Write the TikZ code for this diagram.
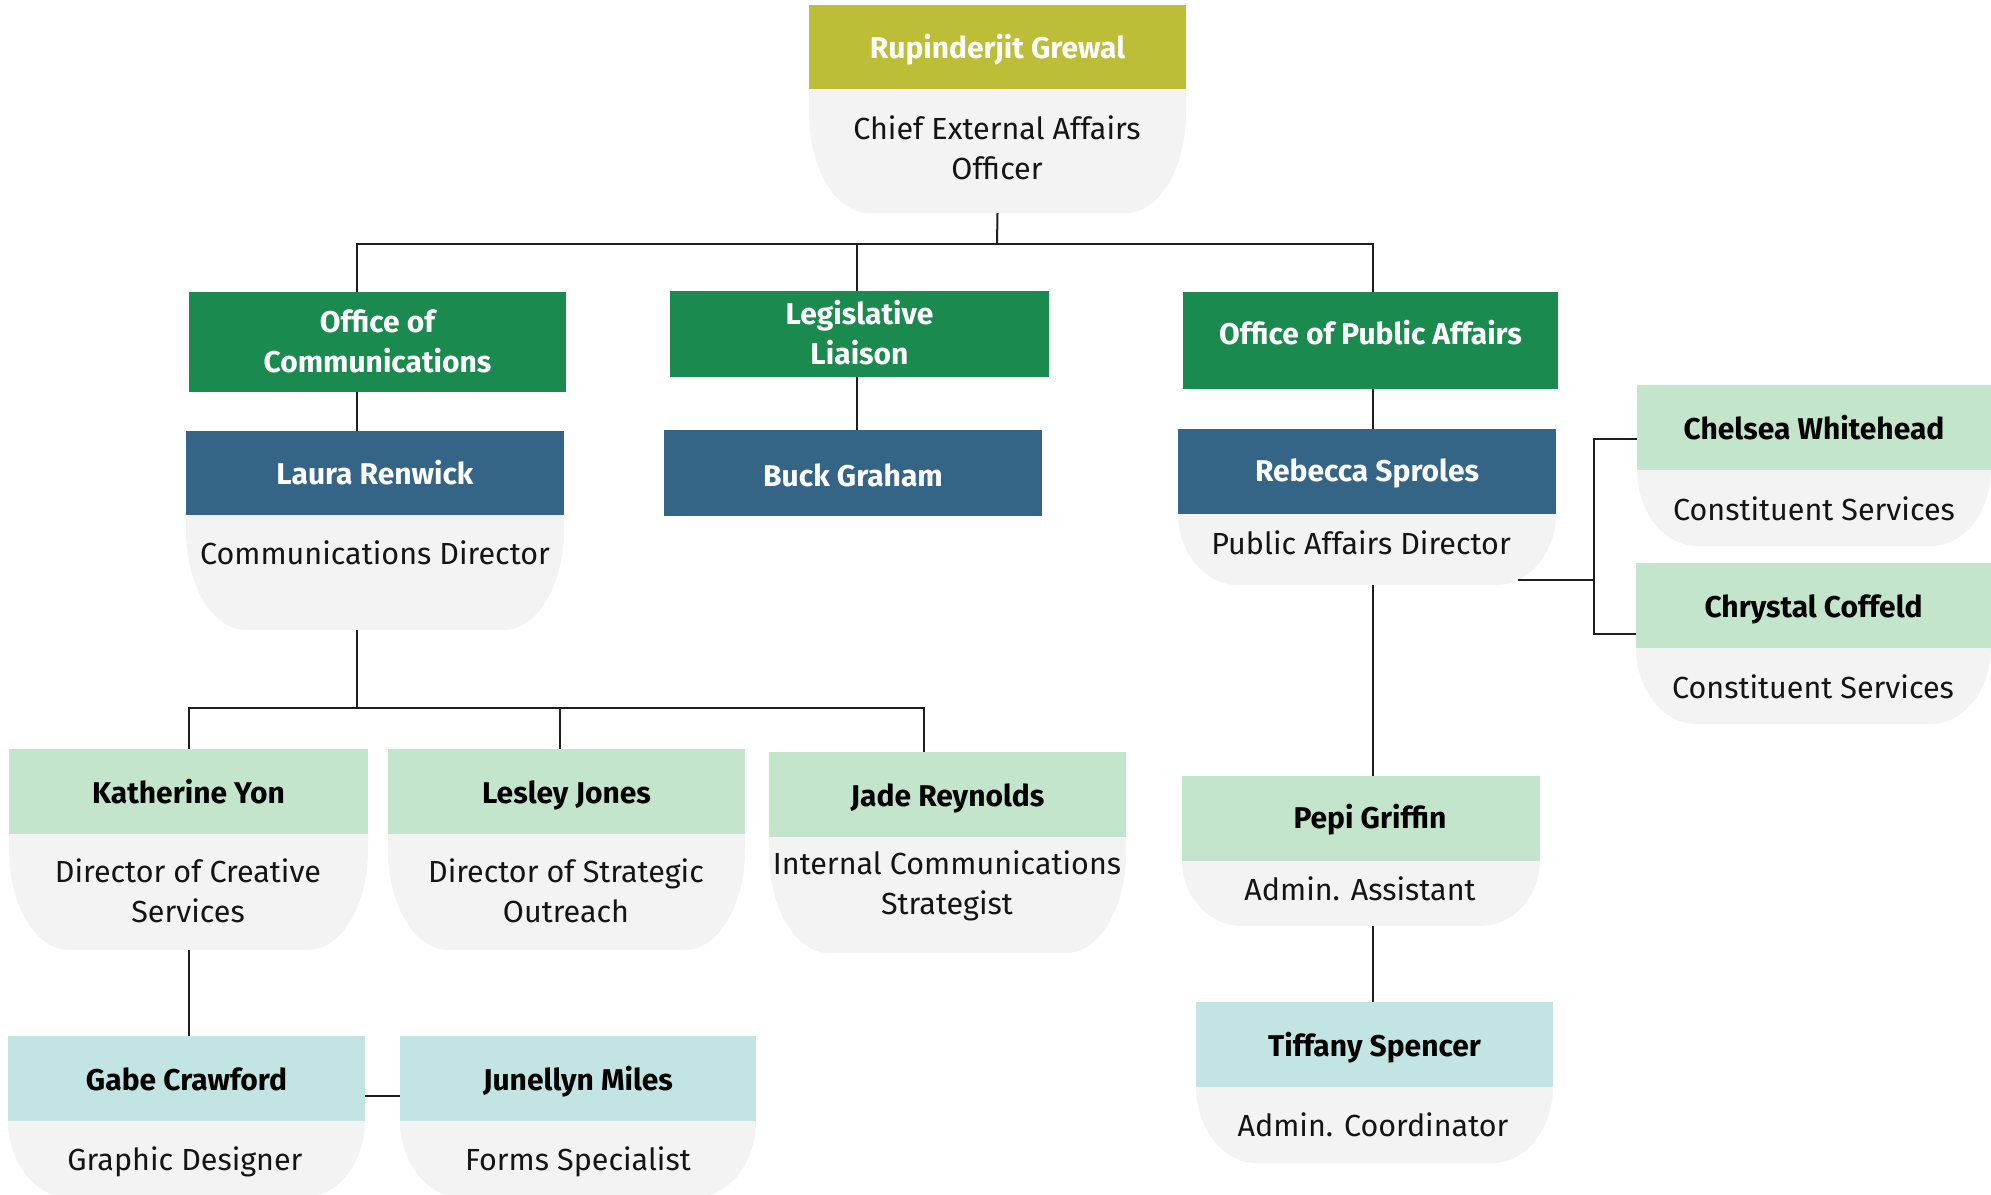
\documentclass[tikz,border=0pt]{standalone}
\usepackage{fontspec}
\setmainfont{Fira Sans}
\definecolor{olive}{RGB}{187,190,54}
\definecolor{dgreen}{RGB}{26,138,78}
\definecolor{dblue}{RGB}{53,101,134}
\definecolor{lgreen}{RGB}{195,229,203}
\definecolor{lteal}{RGB}{194,228,226}
\definecolor{lgray}{RGB}{244,243,244}
\definecolor{linec}{RGB}{30,30,30}
\tikzset{
  headbox/.style={rectangle, inner sep=0pt, align=center, font=\bfseries\fontsize{30}{40}\selectfont},
  darkhead/.style={headbox, text=white},
  lighthead/.style={headbox, text=black},
  bodytxt/.style={inner sep=0pt, align=center, text=black!92, font=\fontsize{30.5}{40}\selectfont},
  oneline/.style={text height=23pt, text depth=0pt},
  conn/.style={draw=linec, line width=2pt},
}
\newcommand\orghead[6]{%
  \node[#6, minimum width=#4pt-#2pt, minimum height=#5pt-#3pt] (#1) at ({(#2+#4)/2},{(#3+#5)/2}) {};}
\newcommand\orgbody[5]{%
  \pgfmathsetmacro\ry{min(#4-#2,100)}%
  \pgfmathsetmacro\ya{#4-\ry}%
  \pgfmathsetmacro\yc{#4-\ry+0.5523*\ry}%
  \fill[lgray] (#1,#2) -- (#3,#2) -- (#3,\ya) .. controls (#3,\yc) and ({#3-60+0.5523*60},#4) .. ({#3-60},#4)
     -- ({#1+60},#4) .. controls ({#1+60-0.5523*60},#4) and (#1,\yc) .. (#1,\ya) -- cycle;
  \coordinate (#5) at ({(#1+#3)/2},#4);}
\begin{document}
\begin{tikzpicture}[x=1pt,y=-1pt]
\useasboundingbox (0,0) rectangle (1991,1194);
\clip (0,0) rectangle (1991,1194);
\fill[white] (0,0) rectangle (1991,1194);
% gray bodies
\orgbody{809}{88}{1186}{213}{chief-b}
\orgbody{186}{514}{564}{630}{laura-b}
\orgbody{1178}{513}{1556}{585}{rebecca-b}
\orgbody{1637}{469}{1991}{546}{chelsea-b}
\orgbody{1636}{647}{1991}{724}{chrystal-b}
\orgbody{9}{833}{368}{950}{kath-b}
\orgbody{388}{833}{745}{950}{lesley-b}
\orgbody{769}{836}{1126}{953}{jade-b}
\orgbody{1182}{860}{1540}{926}{pepi-b}
\orgbody{1196}{1086}{1553}{1163}{tiffany-b}
\orgbody{8}{1120}{365}{1197}{gabe-b}
\orgbody{400}{1120}{756}{1197}{junellyn-b}
% headers
\orghead{chief}{809}{5}{1186}{89}{darkhead, fill=olive}
\orghead{comm}{189}{292}{566}{392}{darkhead, fill=dgreen}
\orghead{legis}{670}{291}{1049}{377}{darkhead, fill=dgreen}
\orghead{pub}{1183}{292}{1558}{389}{darkhead, fill=dgreen}
\orghead{laura}{186}{431}{564}{515}{darkhead, fill=dblue}
\orghead{buck}{664}{430}{1042}{516}{darkhead, fill=dblue}
\orghead{rebecca}{1178}{429}{1556}{514}{darkhead, fill=dblue}
\orghead{chelsea}{1637}{385}{1991}{470}{lighthead, fill=lgreen}
\orghead{chrystal}{1636}{563}{1991}{648}{lighthead, fill=lgreen}
\orghead{kath}{9}{749}{368}{834}{lighthead, fill=lgreen}
\orghead{lesley}{388}{749}{745}{834}{lighthead, fill=lgreen}
\orghead{jade}{769}{752}{1126}{837}{lighthead, fill=lgreen}
\orghead{pepi}{1182}{776}{1540}{861}{lighthead, fill=lgreen}
\orghead{tiffany}{1196}{1002}{1553}{1087}{lighthead, fill=lteal}
\orghead{gabe}{8}{1036}{365}{1121}{lighthead, fill=lteal}
\orghead{junellyn}{400}{1036}{756}{1121}{lighthead, fill=lteal}
% header texts
\node[darkhead, oneline] (chief-n) at (chief) {Rupinderjit Grewal};
\node[darkhead] (comm-n) at ([yshift=1pt]comm.center) {Office of\\Communications};
\node[darkhead] (legis-n) at ([yshift=1pt]legis.center) {Legislative\\Liaison};
\node[darkhead, oneline] (pub-n) at ([yshift=8pt]pub.center) {Office of Public Affairs};
\node[darkhead, oneline] (laura-n) at (laura) {Laura Renwick};
\node[darkhead, oneline] (buck-n) at ([yshift=-2pt]buck.center) {Buck Graham};
\node[darkhead, oneline] (rebecca-n) at ([yshift=2pt]rebecca.center) {Rebecca Sproles};
\node[lighthead, oneline] (chelsea-n) at (chelsea) {Chelsea Whitehead};
\node[lighthead, oneline] (chrystal-n) at (chrystal) {Chrystal Coffeld};
\node[lighthead, oneline] (kath-n) at (kath) {Katherine Yon};
\node[lighthead, oneline] (lesley-n) at (lesley) {Lesley Jones};
\node[lighthead, oneline] (jade-n) at (jade) {Jade Reynolds};
\node[lighthead, oneline] (pepi-n) at ([xshift=9pt,yshift=2pt]pepi.center) {Pepi Griffin};
\node[lighthead, oneline] (tiffany-n) at (tiffany) {Tiffany Spencer};
\node[lighthead, oneline] (gabe-n) at (gabe) {Gabe Crawford};
\node[lighthead, oneline] (junellyn-n) at (junellyn) {Junellyn Miles};
% body texts
\node[bodytxt] (chief-t) at (997,148) {Chief External Affairs\\Officer};
\node[bodytxt, oneline] (laura-t) at (375,553) {Communications Director};
\node[bodytxt, oneline] (rebecca-t) at (1361,543) {Public Affairs Director};
\node[bodytxt, oneline] (chelsea-t) at (1814,509) {Constituent Services};
\node[bodytxt, oneline] (chrystal-t) at (1813,687) {Constituent Services};
\node[bodytxt] (kath-t) at (188,891) {Director of Creative\\Services};
\node[bodytxt] (lesley-t) at (566,891) {Director of Strategic\\Outreach};
\node[bodytxt] (jade-t) at (947,886) {Internal Communications\\Strategist};
\node[bodytxt, oneline] (pepi-t) at (1360,889) {Admin. Assistant};
\node[bodytxt, oneline] (tiffany-t) at (1373,1125) {Admin. Coordinator};
\node[bodytxt, oneline] (gabe-t) at (185,1159) {Graphic Designer};
\node[bodytxt, oneline] (junellyn-t) at (578,1159) {Forms Specialist};
% column and bus coordinates
\coordinate (xA) at (357,0);
\coordinate (xL) at (857,0);
\coordinate (xP) at (1373,0);
\coordinate (xK) at (189,0);
\coordinate (xS) at (560,0);
\coordinate (xJ) at (924,0);
\coordinate (xC) at (997,0);
\coordinate (xB) at (1594,0);
\coordinate (busTop) at (0,244);
\coordinate (busMid) at (0,708);
\coordinate (rebR) at (1518,580);
% connectors
\draw[conn] (chief-b) -- (xC |- busTop);
\draw[conn] (xA |- comm.north) -- (xA |- busTop) -- (xP |- busTop) -- (xP |- pub.north);
\draw[conn] (xL |- busTop) -- (xL |- legis.north);
\draw[conn] (xA |- comm.south) -- (xA |- laura.north);
\draw[conn] (xL |- legis.south) -- (xL |- buck.north);
\draw[conn] (xP |- pub.south) -- (xP |- rebecca.north);
\draw[conn] (xA |- laura-b) -- (xA |- busMid);
\draw[conn] (xK |- kath.north) -- (xK |- busMid) -- (xJ |- busMid) -- (xJ |- jade.north);
\draw[conn] (xS |- busMid) -- (xS |- lesley.north);
\draw[conn] (xK |- kath-b) -- (xK |- gabe.north);
\draw[conn] (gabe.east |- 0,1096) -- (junellyn.west |- 0,1096);
\draw[conn] (xP |- rebecca-b) -- (xP |- pepi.north);
\draw[conn] (xP |- pepi-b) -- (xP |- tiffany.north);
\draw[conn] (rebR) -- (xB |- rebR);
\draw[conn] (chelsea.west |- 0,439) -- (xB |- 0,439) -- (xB |- 0,634) -- (chrystal.west |- 0,634);
\end{tikzpicture}
\end{document}
